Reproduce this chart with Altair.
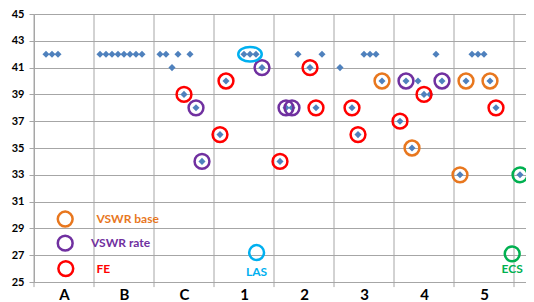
import altair as alt
import pandas as pd

# Category labels on the x axis (each occupies one unit of x)
categories = ["A", "B", "C", "1", "2", "3", "4", "5"]
y_ticks = [25, 27, 29, 31, 33, 35, 37, 39, 41, 43, 45]

# Blue diamond measurements
dia_x = [0.2, 0.3, 0.4,
         1.1, 1.2, 1.3, 1.4, 1.5, 1.6, 1.7, 1.8,
         2.1, 2.2, 2.3, 2.4, 2.6, 2.5, 2.7, 2.8,
         3.1, 3.2, 3.5, 3.6, 3.7, 3.8,
         4.1, 4.2, 4.3, 4.4, 4.6, 4.7, 4.8,
         5.1, 5.3, 5.4, 5.5, 5.6, 5.7, 5.8,
         6.1, 6.2, 6.3, 6.4, 6.5, 6.6, 6.7, 6.8,
         7.1, 7.2, 7.3, 7.4, 7.5, 7.6, 7.7,
         8.1]
dia_y = [42, 42, 42,
         42, 42, 42, 42, 42, 42, 42, 42,
         42, 42, 41, 42, 42, 39, 38, 34,
         36, 40, 42, 42, 42, 41,
         34, 38, 38, 42, 41, 38, 42,
         41, 38, 36, 42, 42, 42, 40,
         37, 40, 35, 40, 39, 39, 42, 40,
         33, 40, 42, 42, 42, 40, 38,
         33]

# Highlight rings
base_x = [5.8, 6.3, 7.1, 7.2, 7.6]
base_y = [40, 35, 33, 40, 40]
rate_x = [2.7, 2.8, 3.8, 4.2, 4.3, 6.2, 6.8]
rate_y = [38, 34, 41, 38, 38, 40, 40]
fe_x = [2.5, 3.1, 3.2, 4.1, 4.6, 4.7, 5.3, 5.4, 6.1, 6.5, 7.7]
fe_y = [39, 36, 40, 34, 41, 38, 38, 36, 37, 39, 38]
ecs_x = [8.1, 7.97]
ecs_y = [33, 27.1]
las_x = [3.71]
las_y = [27.2]
las_group_x = [3.6]
las_group_y = [42]

# Legend-like annotation
leg_kind = ["VSWR base", "VSWR rate", "FE"]
leg_circle_x = [0.52, 0.52, 0.53]
leg_y = [29.7, 27.9, 26.0]
leg_text_x = [1.04, 0.95, 1.04]
note_text = ["LAS", "ECS"]
note_x = [3.71, 7.97]
note_y = [25.75, 26.0]

C_BLUE = "#4f81bd"
C_ORANGE = "#e8771e"
C_PURPLE = "#7030a0"
C_RED = "#ff0000"
C_CYAN = "#00b0f0"
C_GREEN = "#00b050"
GRID = "#a6a6a6"
FONT = "Lato"

XMAX = 8.2
xs = alt.Scale(domain=[0, XMAX], nice=False, zero=False)
ys = alt.Scale(domain=[25, 45], nice=False, zero=False)

label_expr = "[" + ",".join("'%s'" % c for c in categories) + "][floor(datum.value)]"

x_axis = alt.Axis(values=[i + 0.5 for i in range(len(categories))],
                  labelExpr=label_expr, title=None, grid=False, ticks=False,
                  domainColor=GRID, labelFont=FONT, labelFontSize=15,
                  labelFontWeight="bold", labelColor="#000000", labelPadding=5,
                  labelOverlap=False)
y_axis = alt.Axis(values=y_ticks, title=None, grid=True, gridColor=GRID,
                  domainColor=GRID, tickColor=GRID, tickSize=5,
                  labelFont=FONT, labelFontSize=11, labelFontWeight="bold",
                  labelColor="#000000", labelPadding=5, labelOverlap=False)


def X(field="x"):
    return alt.X(field + ":Q", scale=xs, axis=x_axis)


def Y(field="y"):
    return alt.Y(field + ":Q", scale=ys, axis=y_axis)


diam = pd.DataFrame({"x": dia_x, "y": dia_y})

vgrid = pd.DataFrame({"x": list(range(0, 9)), "y": [24.62] * 9, "y2": [45] * 9})
rules = alt.Chart(vgrid).mark_rule(color=GRID, strokeWidth=1).encode(
    x=X(), y=Y(), y2="y2:Q")

base = alt.Chart(diam).mark_point(shape="diamond", filled=True, size=50,
                                   color=C_BLUE, opacity=1).encode(x=X(), y=Y())


def rings(xv, yv, color, size=220):
    df = pd.DataFrame({"x": xv, "y": yv})
    return alt.Chart(df).mark_point(shape="circle", filled=False, size=size,
                                    color=color, strokeWidth=2.5, opacity=1).encode(
        x=X(), y=Y())


ellipse = alt.Chart(pd.DataFrame({"x": las_group_x, "y": las_group_y})).mark_point(
    shape="M -1 0 A 1 0.62 0 1 0 1 0 A 1 0.62 0 1 0 -1 0 Z",
    filled=False, size=552, color=C_CYAN, strokeWidth=2.5, opacity=1).encode(
    x=X(), y=Y())

leg_df = pd.DataFrame({"kind": leg_kind, "cx": leg_circle_x, "y": leg_y, "tx": leg_text_x})
leg_color = alt.Color("kind:N", scale=alt.Scale(domain=leg_kind,
                                                 range=[C_ORANGE, C_PURPLE, C_RED]),
                      legend=None)
leg_circles = alt.Chart(leg_df).mark_point(shape="circle", filled=False, size=220,
                                           strokeWidth=2.5, opacity=1).encode(
    x=X("cx"), y=Y(), color=leg_color)
leg_text = alt.Chart(leg_df).mark_text(align="left", baseline="middle", font=FONT,
                                       fontSize=12, fontWeight="bold").encode(
    x=X("tx"), y=Y(), text="kind:N", color=leg_color)

note_df = pd.DataFrame({"t": note_text, "x": note_x, "y": note_y})
notes = alt.Chart(note_df).mark_text(align="center", baseline="middle", font=FONT,
                                     fontSize=12, fontWeight="bold").encode(
    x=X(), y=Y(), text="t:N",
    color=alt.Color("t:N", scale=alt.Scale(domain=note_text, range=[C_CYAN, C_GREEN]),
                    legend=None))

chart = alt.layer(
    rules, base,
    rings(base_x, base_y, C_ORANGE),
    rings(rate_x, rate_y, C_PURPLE),
    rings(fe_x, fe_y, C_RED),
    rings(ecs_x, ecs_y, C_GREEN),
    rings(las_x, las_y, C_CYAN),
    ellipse, leg_circles, leg_text, notes,
).resolve_scale(color="independent").properties(
    width=492, height=268,
    autosize=alt.AutoSizeParams(type="none"),
    padding={"left": 26, "top": 6, "right": 0, "bottom": 20},
    background="#ffffff",
).configure_view(stroke=None)

chart.save("out.html", embed_options={"renderer": "svg", "actions": False})
